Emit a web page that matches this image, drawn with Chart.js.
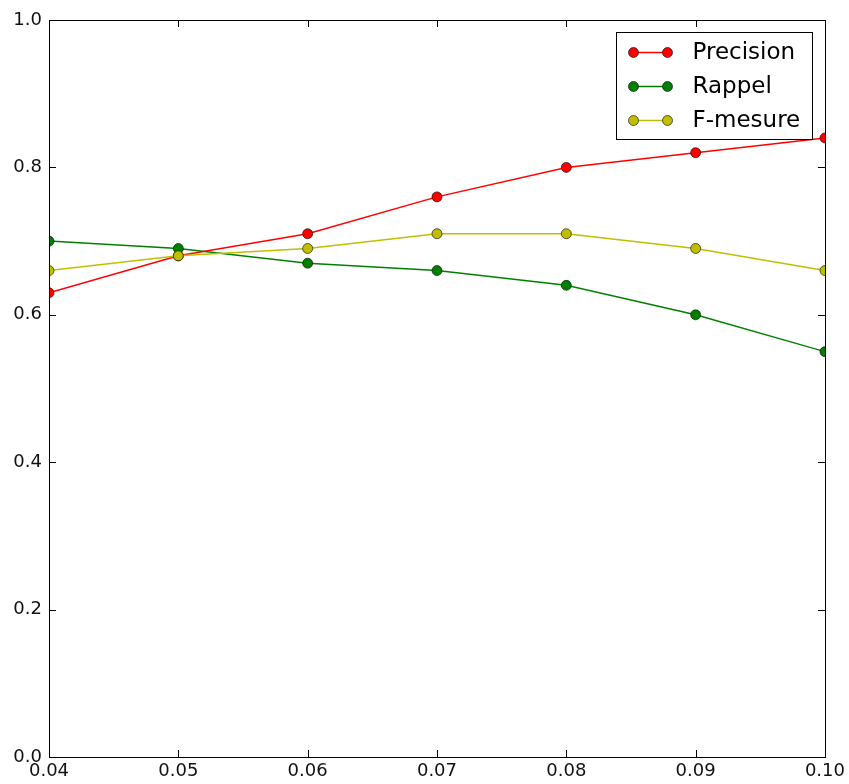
<!DOCTYPE html>
<html>
<head>
<meta charset="utf-8">
<script src="https://cdn.jsdelivr.net/npm/chart.js@4/dist/chart.umd.min.js"></script>
<style>
  html, body { margin: 0; padding: 0; background: #ffffff; }
  #wrap { width: 849px; height: 784px; }
</style>
</head>
<body>
<div id="wrap"><canvas id="c" width="849" height="784"></canvas></div>
<script>
const xValues = [0.04, 0.05, 0.06, 0.07, 0.08, 0.09, 0.10];
const precision = [0.63, 0.68, 0.71, 0.76, 0.80, 0.82, 0.84];
const rappel = [0.70, 0.69, 0.67, 0.66, 0.64, 0.60, 0.55];
const fmesure = [0.66, 0.68, 0.69, 0.71, 0.71, 0.69, 0.66];
const seriesLabels = ['Precision', 'Rappel', 'F-mesure'];
const seriesColors = ['#ff0000', '#008000', '#bfbf00'];
const xTicks = [0.04, 0.05, 0.06, 0.07, 0.08, 0.09, 0.10];
const yTicks = [0.0, 0.2, 0.4, 0.6, 0.8, 1.0];

const FONT = '"DejaVu Sans", sans-serif';

function makeDataset(label, values, color, order) {
  return {
    label: label,
    order: order,
    data: xValues.map((x, i) => ({ x: x, y: values[i] })),
    borderColor: color,
    backgroundColor: color,
    borderWidth: 1.5,
    pointRadius: 5,
    pointHoverRadius: 5,
    pointBackgroundColor: color,
    pointBorderColor: '#000000',
    pointBorderWidth: 0.6,
    tension: 0,
    fill: false,
    clip: 0
  };
}

const framePlugin = {
  id: 'frame',
  afterDatasetsDraw(chart) {
    const ctx = chart.ctx;
    const a = chart.chartArea;
    const xs = chart.scales.x, ys = chart.scales.y;
    const tl = 7;
    ctx.save();
    ctx.strokeStyle = '#000000';
    ctx.lineWidth = 1;
    ctx.beginPath();
    xTicks.forEach(v => {
      const px = Math.round(xs.getPixelForValue(v)) + 0.5;
      ctx.moveTo(px, a.bottom); ctx.lineTo(px, a.bottom - tl);
      ctx.moveTo(px, a.top); ctx.lineTo(px, a.top + tl);
    });
    yTicks.forEach(v => {
      const py = Math.round(ys.getPixelForValue(v)) + 0.5;
      ctx.moveTo(a.left, py); ctx.lineTo(a.left + tl, py);
      ctx.moveTo(a.right, py); ctx.lineTo(a.right - tl, py);
    });
    ctx.stroke();
    ctx.strokeRect(Math.round(a.left) + 0.5, Math.round(a.top) + 0.5,
                   Math.round(a.right - a.left), Math.round(a.bottom - a.top));
    // legend
    const bx = Math.round(a.right) - 209 + 0.5, by = Math.round(a.top) + 12 + 0.5;
    const bw = 196, bh = 107;
    ctx.fillStyle = '#ffffff';
    ctx.fillRect(bx, by, bw, bh);
    ctx.strokeRect(bx, by, bw, bh);
    seriesLabels.forEach((label, i) => {
      const color = seriesColors[i];
      const y = by + 20 + i * 34;
      const x1 = bx + 17, x2 = bx + 51;
      ctx.strokeStyle = color;
      ctx.lineWidth = 1.5;
      ctx.beginPath(); ctx.moveTo(x1, y); ctx.lineTo(x2, y); ctx.stroke();
      [x1, x2].forEach(x => {
        ctx.beginPath();
        ctx.arc(x, y, 5, 0, Math.PI * 2);
        ctx.fillStyle = color;
        ctx.fill();
        ctx.strokeStyle = '#000000';
        ctx.lineWidth = 0.6;
        ctx.stroke();
      });
      ctx.fillStyle = '#000000';
      ctx.font = '23px ' + FONT;
      ctx.textBaseline = 'middle';
      ctx.textAlign = 'left';
      ctx.fillText(label, bx + 76, y + 1);
    });
    ctx.restore();
  }
};

new Chart(document.getElementById('c'), {
  type: 'line',
  data: {
    datasets: [
      makeDataset(seriesLabels[0], precision, seriesColors[0], 2),
      makeDataset(seriesLabels[1], rappel, seriesColors[1], 1),
      makeDataset(seriesLabels[2], fmesure, seriesColors[2], 0)
    ]
  },
  options: {
    responsive: false,
    animation: false,
    events: [],
    layout: { padding: { left: 0, right: 24, top: 20, bottom: 0 } },
    plugins: { legend: { display: false }, tooltip: { enabled: false } },
    scales: {
      x: {
        type: 'linear',
        min: 0.04,
        max: 0.10,
        afterBuildTicks: s => { s.ticks = xTicks.map(v => ({ value: v })); },
        afterFit: s => { s.height = 27; },
        grid: { display: false, drawTicks: false },
        border: { display: false },
        ticks: {
          padding: 4,
          color: '#111111',
          font: { family: FONT, size: 18 },
          maxRotation: 0,
          autoSkip: false,
          callback: v => Number(v).toFixed(2)
        }
      },
      y: {
        type: 'linear',
        min: 0,
        max: 1,
        afterBuildTicks: s => { s.ticks = yTicks.map(v => ({ value: v })); },
        afterFit: s => { s.width = 49; },
        grid: { display: false, drawTicks: false },
        border: { display: false },
        ticks: {
          padding: 7,
          color: '#111111',
          font: { family: FONT, size: 18 },
          autoSkip: false,
          callback: v => Number(v).toFixed(1)
        }
      }
    }
  },
  plugins: [framePlugin]
});
</script>
</body>
</html>
